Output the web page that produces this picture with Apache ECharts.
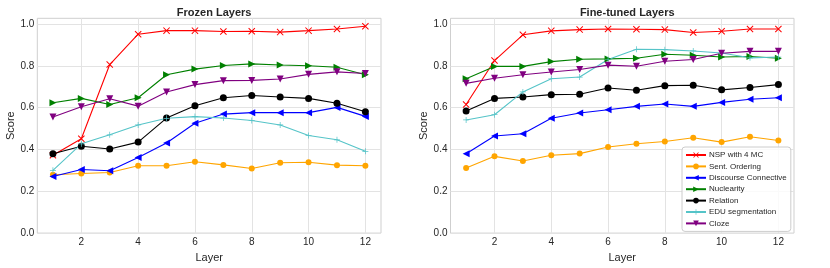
<!DOCTYPE html>
<html>
<head>
<meta charset="utf-8">
<script src="https://cdn.jsdelivr.net/npm/echarts@6/dist/echarts.min.js"></script>
<style>html,body{margin:0;padding:0;background:#fff}#c{width:830px;height:268px}</style>
</head>
<body>
<div id="c"></div>
<script>
const layers = [1,2,3,4,5,6,7,8,9,10,11,12];
const xTicks = [2,4,6,8,10,12];
const yTicks = [0,0.2,0.4,0.6,0.8,1.0];
const panelTitles = ['Frozen Layers', 'Fine-tuned Layers'];
const seriesNames = ['NSP with 4 MC','Sent. Ordering','Discourse Connective','Nuclearity','Relation','EDU segmentation','Cloze'];

// Frozen layers
const frozenNSP       = [0.372,0.451,0.806,0.951,0.968,0.968,0.964,0.965,0.961,0.968,0.976,0.989];
const frozenSentOrder = [0.279,0.285,0.290,0.322,0.322,0.341,0.326,0.309,0.336,0.339,0.325,0.322];
const frozenDiscourse = [0.271,0.304,0.298,0.361,0.431,0.525,0.569,0.576,0.576,0.576,0.601,0.558];
const frozenNuclear   = [0.623,0.644,0.615,0.647,0.757,0.784,0.801,0.809,0.804,0.800,0.793,0.757];
const frozenRelation  = [0.379,0.415,0.402,0.435,0.550,0.609,0.647,0.658,0.651,0.644,0.621,0.580];
const frozenEDU       = [0.300,0.427,0.470,0.517,0.549,0.557,0.550,0.538,0.517,0.467,0.446,0.391];
const frozenCloze     = [0.555,0.604,0.642,0.607,0.675,0.710,0.729,0.730,0.737,0.759,0.771,0.763];

// Fine-tuned layers
const tunedNSP        = [0.615,0.825,0.948,0.967,0.973,0.976,0.975,0.973,0.959,0.965,0.976,0.976];
const tunedSentOrder  = [0.311,0.367,0.345,0.372,0.380,0.412,0.427,0.438,0.456,0.435,0.461,0.443];
const tunedDiscourse  = [0.379,0.464,0.475,0.549,0.574,0.590,0.606,0.617,0.606,0.625,0.640,0.647];
const tunedNuclear    = [0.738,0.797,0.797,0.820,0.831,0.833,0.836,0.855,0.850,0.842,0.844,0.836];
const tunedRelation   = [0.584,0.644,0.651,0.662,0.664,0.694,0.683,0.705,0.707,0.685,0.696,0.710];
const tunedEDU        = [0.541,0.566,0.675,0.738,0.746,0.830,0.879,0.877,0.871,0.861,0.838,0.842];
const tunedCloze      = [0.716,0.740,0.757,0.770,0.782,0.803,0.798,0.822,0.830,0.860,0.869,0.869];

const frozenAll = [frozenNSP,frozenSentOrder,frozenDiscourse,frozenNuclear,frozenRelation,frozenEDU,frozenCloze];
const tunedAll  = [tunedNSP,tunedSentOrder,tunedDiscourse,tunedNuclear,tunedRelation,tunedEDU,tunedCloze];

const X_PATH = 'path://M1,0 L5,4 L9,0 L10,1 L6,5 L10,9 L9,10 L5,6 L1,10 L0,9 L4,5 L0,1 Z';
const PLUS_PATH = 'path://M4.4,0 H5.6 V4.4 H10 V5.6 H5.6 V10 H4.4 V5.6 H0 V4.4 H4.4 Z';
const styles = [
  {color:'#ff0000', symbol:X_PATH, size:7, rot:0},
  {color:'#ffa500', symbol:'circle', size:6, rot:0},
  {color:'#0000ff', symbol:'triangle', size:7, rot:90},
  {color:'#008000', symbol:'triangle', size:7, rot:-90},
  {color:'#000000', symbol:'circle', size:7, rot:0},
  {color:'#55c4c8', symbol:PLUS_PATH, size:6, rot:0},
  {color:'#800080', symbol:'triangle', size:7, rot:180}
];

const FONT = 'Liberation Sans, Arial, sans-serif';
const TXT = '#262626';
const grids = [
  {left:37.3, top:18.3, width:343.7, height:216.4},
  {left:450.5, top:18.3, width:343.5, height:216.4}
];

function xAxisFor(i){
  return {
    type:'value', gridIndex:i, min:0.45, max:12.55,
    name:'Layer', nameLocation:'middle', nameGap:16,
    nameTextStyle:{fontFamily:FONT, fontSize:11, color:TXT},
    axisLine:{show:false},
    axisTick:{show:false, customValues:xTicks},
    axisLabel:{customValues:xTicks, margin:4, fontFamily:FONT, fontSize:10, color:TXT},
    splitLine:{show:true, lineStyle:{color:'#e3e3e3', width:1}}
  };
}
function yAxisFor(i){
  return {
    type:'value', gridIndex:i, min:0, max:1.027,
    name:'Score', nameLocation:'middle', nameGap:21,
    nameTextStyle:{fontFamily:FONT, fontSize:11, color:TXT},
    axisLine:{show:false},
    axisTick:{show:false, customValues:yTicks},
    axisLabel:{customValues:yTicks, margin:3, fontFamily:FONT, fontSize:10, color:TXT,
      formatter:v=>v.toFixed(1)},
    splitLine:{show:true, lineStyle:{color:'#e3e3e3', width:1}}
  };
}

const series = [];
[frozenAll, tunedAll].forEach((all, gi) => {
  all.forEach((vals, si) => {
    const st = styles[si];
    series.push({
      name: seriesNames[si], type:'line', xAxisIndex:gi, yAxisIndex:gi,
      data: layers.map((l, k) => [l, vals[k]]),
      symbol: st.symbol, symbolSize: st.size, symbolRotate: st.rot,
      showAllSymbol:true, animation:false,
      lineStyle:{color:st.color, width:1.1},
      itemStyle:{color:st.color},
      emphasis:{disabled:true}
    });
  });
});

const chart = echarts.init(document.getElementById('c'), null, {renderer:'canvas'});
chart.setOption({
  animation:false,
  backgroundColor:'#fff',
  title: panelTitles.map((t, i) => ({
    text:t, left: grids[i].left + grids[i].width/2, top:2, textAlign:'center',
    textStyle:{fontFamily:FONT, fontSize:11, fontWeight:'bold', color:TXT}
  })),
  grid: grids.map(g => Object.assign({show:true, borderColor:'#cfcfcf', borderWidth:1, backgroundColor:'transparent'}, g)),
  xAxis: [xAxisFor(0), xAxisFor(1)],
  yAxis: [yAxisFor(0), yAxisFor(1)],
  legend: {
    data: seriesNames, orient:'vertical', left:682, top:147,
    itemWidth:20, itemHeight:7, itemGap:1.4,
    padding:[3,4,3,3], borderColor:'#cccccc', borderWidth:1, borderRadius:3,
    backgroundColor:'rgba(255,255,255,0.8)',
    textStyle:{fontFamily:FONT, fontSize:8, lineHeight:10, color:TXT, padding:[0,0,0,-2]},
    selectedMode:false
  },
  series: series
});
</script>
</body>
</html>
